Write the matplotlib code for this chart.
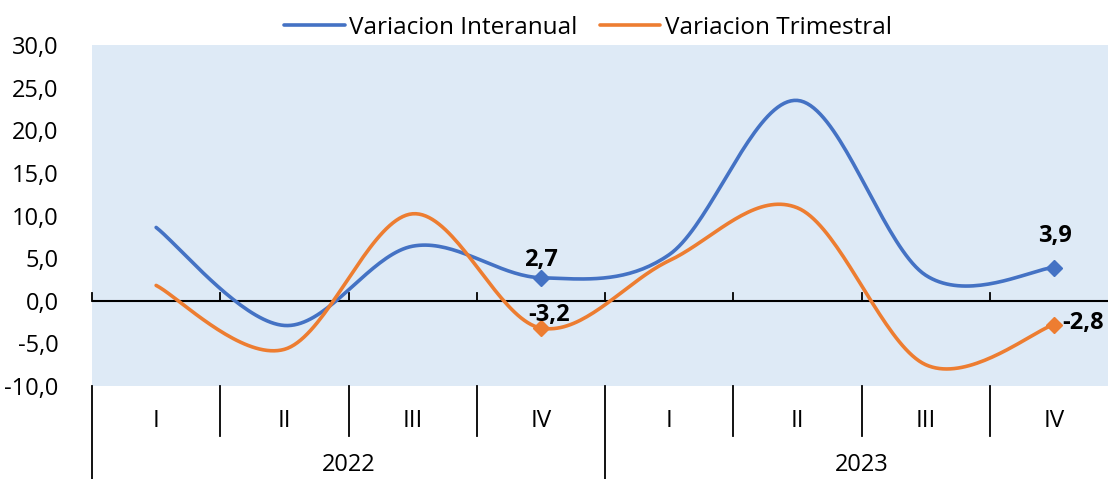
import numpy as np
import matplotlib
matplotlib.use("Agg")
import matplotlib.pyplot as plt
import matplotlib.transforms as mtransforms

plt.rcParams['font.family'] = ['Open Sans', 'DejaVu Sans']

quarters = ["I", "II", "III", "IV", "I", "II", "III", "IV"]
years = ["2022", "2023"]
interanual = [8.6, -2.9, 6.4, 2.7, 5.4, 23.5, 3.0, 3.9]
trimestral = [1.8, -5.7, 10.2, -3.2, 4.7, 10.9, -7.5, -2.8]
labeled_idx = [3, 7]

BLUE = "#4472C4"
ORANGE = "#ED7D31"
BG = "#DEEAF6"


def smooth(x, y, n=40):
    # excel style smoothed line: cubic bezier through every point
    x = np.asarray(x, float)
    y = np.asarray(y, float)
    px = np.concatenate([[x[0]], x, [x[-1]]])
    py = np.concatenate([[y[0]], y, [y[-1]]])
    t = np.linspace(0, 1, n)[:, None]
    xs, ys = [], []
    for i in range(len(x) - 1):
        p0 = np.array([x[i], y[i]])
        p3 = np.array([x[i + 1], y[i + 1]])
        p1 = p0 + (np.array([px[i + 2], py[i + 2]]) - np.array([px[i], py[i]])) / 6
        p2 = p3 - (np.array([px[i + 3], py[i + 3]]) - np.array([px[i + 1], py[i + 1]])) / 6
        b = ((1 - t) ** 3) * p0 + 3 * ((1 - t) ** 2) * t * p1 + 3 * (1 - t) * t ** 2 * p2 + t ** 3 * p3
        xs.append(b[:, 0])
        ys.append(b[:, 1])
    return np.concatenate(xs), np.concatenate(ys)


fig = plt.figure(figsize=(11.08, 4.79), dpi=100)
# plot area runs a little past the right edge of the picture
ax = fig.add_axes([92 / 1108, 1 - 386 / 479, 1026 / 1108, 341 / 479])
ax.set_facecolor(BG)

xpos = np.arange(len(quarters))
for vals, col, name in [(interanual, BLUE, "Variacion Interanual"),
                        (trimestral, ORANGE, "Variacion Trimestral")]:
    sx, sy = smooth(xpos, vals)
    ax.plot(sx, sy, color=col, lw=2.6, label=name, solid_capstyle="round")
    ax.plot(xpos[labeled_idx], np.array(vals)[labeled_idx], "D", color=col, ms=8)

ax.set_xlim(-0.5, 7.5)
ax.set_ylim(-10, 30)
ax.set_yticks(np.arange(-10, 31, 5))
ax.set_yticklabels([f"{v:.1f}".replace(".", ",") for v in np.arange(-10, 31, 5)], fontsize=17)
ax.tick_params(axis="y", length=0, pad=24)
ax.set_xticks([])
for s in ax.spines.values():
    s.set_visible(False)

# zero axis with small ticks on top
ax.axhline(0, color="black", lw=1.5, zorder=1)
for b in np.arange(-0.5, 8, 1):
    ax.plot([b, b], [0, 0.9], color="black", lw=1.3, zorder=1, clip_on=False)

lab = dict(fontsize=17, fontweight="bold", color="black", va="center")
ax.annotate("2,7", (3, interanual[3]), xytext=(0, 13), textcoords="offset points", ha="center", **lab)
ax.annotate("-3,2", (3, trimestral[3]), xytext=(6, 9.5), textcoords="offset points", ha="center", **lab)
ax.annotate("3,9", (7, interanual[7]), xytext=(1, 23), textcoords="offset points", ha="center", **lab)
ax.annotate("-2,8", (7, trimestral[7]), xytext=(6, 1.5), textcoords="offset points", ha="left", **lab)

# multi-level category axis
trans = mtransforms.blended_transform_factory(ax.transData, ax.transAxes)
for b in np.arange(-0.5, 8, 1):
    bottom = -0.28 if b in (-0.5, 3.5, 7.5) else -0.147
    ax.plot([b, b], [0, bottom], color="black", lw=1.3, transform=trans, clip_on=False)
for i, q in enumerate(quarters):
    ax.text(i, -0.104, q, transform=trans, ha="center", va="center", fontsize=17.5)
for j, yr in enumerate(years):
    ax.text(1.5 + 4 * j, -0.232, yr, transform=trans, ha="center", va="center", fontsize=17)

ax.legend(loc="center", bbox_to_anchor=(496 / 1026, 1.05), ncol=2, frameon=False, fontsize=17.5,
          handlelength=2.5, handletextpad=0.2, columnspacing=0.9, borderaxespad=0)

fig.savefig("out.png", dpi=100)
